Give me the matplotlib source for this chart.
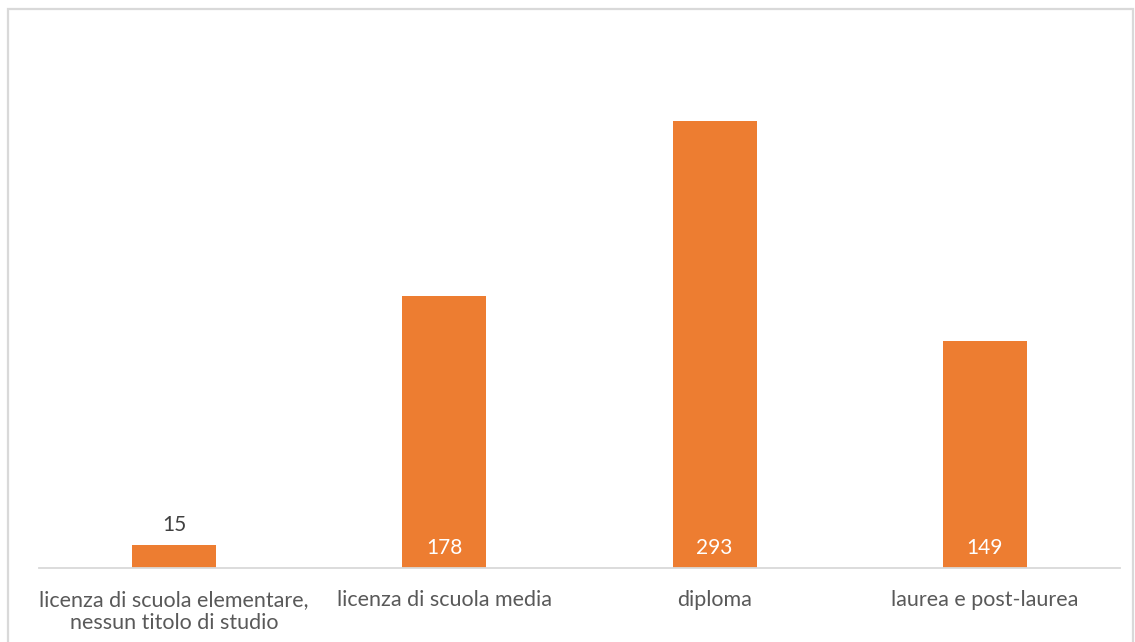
import matplotlib.pyplot as plt
from matplotlib.patches import Rectangle

categories = ['licenza di scuola elementare,\nnessun titolo di studio',
              'licenza di scuola media', 'diploma', 'laurea e post-laurea']
values = [15, 178, 293, 149]

plt.rcParams['font.family'] = ['Lato', 'DejaVu Sans']

fig = plt.figure(figsize=(11.35, 6.42), dpi=100)
fig.patch.set_facecolor('white')

# cornice grigia del grafico
fig.patches.append(Rectangle((8 / 1135, -0.01), 1125 / 1135, 1 - 9 / 642 + 0.01,
                             transform=fig.transFigure, fill=False,
                             edgecolor='#d9d9d9', linewidth=1.6))

ax = fig.add_axes([39 / 1135, 1 - 568 / 642, 1081 / 1135, 538 / 642])
x = range(len(categories))
bars = ax.bar(x, values, width=0.31, color='#ED7D31', zorder=2)

ax.set_xlim(-0.5, 3.5)
ax.set_ylim(0, 538 / 1.526)
ax.set_yticks([])
for s in ['top', 'right', 'left']:
    ax.spines[s].set_visible(False)
ax.spines['bottom'].set_color('#d9d9d9')
ax.spines['bottom'].set_linewidth(1.3)
ax.set_xticks(list(x))
ax.set_xticklabels(categories, fontsize=15.5, color='#595959', linespacing=1.2)
ax.tick_params(axis='x', length=0, pad=16)

# etichette dei valori: dentro la barra in basso, sopra se la barra è troppo bassa
for bar, v in zip(bars, values):
    cx = bar.get_x() + bar.get_width() / 2
    if v < 40:
        ax.text(cx, v + 6.5, f'{v}', ha='center', va='bottom', fontsize=15, color='#404040')
    else:
        ax.text(cx, 13, f'{v}', ha='center', va='center', fontsize=15, color='white')

fig.savefig('out.png', dpi=100, facecolor='white')
